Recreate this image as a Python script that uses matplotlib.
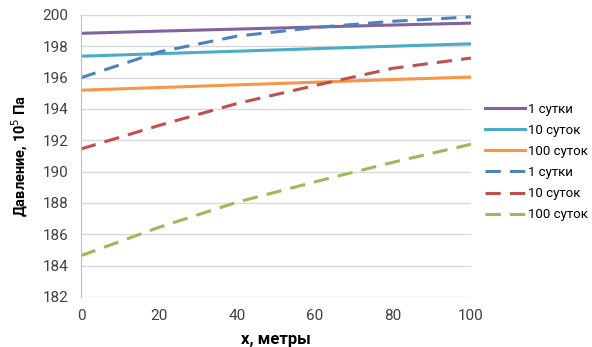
import matplotlib
matplotlib.use("Agg")
import matplotlib.pyplot as plt

x_solid = [0, 20, 40, 60, 80, 100]
s1 = [198.83, 198.97, 199.1, 199.23, 199.36, 199.48]
s10 = [197.37, 197.53, 197.69, 197.85, 198.01, 198.16]
s100 = [195.2, 195.37, 195.54, 195.71, 195.88, 196.04]

x_dash = [0, 20, 40, 60, 80, 100]
d1 = [196.0, 197.64, 198.65, 199.2, 199.6, 199.88]
d10 = [191.45, 192.95, 194.35, 195.5, 196.6, 197.25]
d100 = [184.64, 186.45, 188.05, 189.35, 190.6, 191.75]

labels = ["1 сутки", "10 суток", "100 суток", "1 сутки", "10 суток", "100 суток"]
yticks = list(range(182, 201, 2))
xticks = list(range(0, 101, 20))

plt.rcParams['font.family'] = ['Roboto', 'DejaVu Sans']

fig = plt.figure(figsize=(5.92, 3.47), dpi=100)
ax = fig.add_axes([81/592, 50/347, 390/592, 282/347])

lw = 2.2
dash = (0, (5, 3))
ax.plot(x_solid, s1, color="#8064A2", lw=lw, label=labels[0])
ax.plot(x_solid, s10, color="#4BACC6", lw=lw, label=labels[1])
ax.plot(x_solid, s100, color="#F79646", lw=lw, label=labels[2])
ax.plot(x_dash, d1, color="#4F81BD", lw=lw, ls=dash, label=labels[3])
ax.plot(x_dash, d10, color="#C0504D", lw=lw, ls=dash, label=labels[4])
ax.plot(x_dash, d100, color="#9BBB59", lw=lw, ls=dash, label=labels[5])

ax.set_xlim(0, 100)
ax.set_ylim(182, 200)
ax.set_xticks(xticks)
ax.set_yticks(yticks)
ax.yaxis.grid(True, color="#D9D9D9", lw=1)
ax.set_axisbelow(True)
for s in ["top", "right", "bottom"]:
    ax.spines[s].set_visible(False)
ax.spines["left"].set_color("#BFBFBF")
ax.tick_params(axis="both", length=0, labelsize=11, colors="#404040")
ax.tick_params(axis="y", pad=9)
ax.tick_params(axis="x", pad=9)

ax.set_xlabel("x, метры", fontsize=12, fontweight="bold", labelpad=6)
ax.set_ylabel("Давление, 10$^5$ Па", fontsize=10.5, fontweight="bold", labelpad=9)

leg = fig.legend(loc="center left", bbox_to_anchor=(480/592, (347-162)/347), frameon=False,
                 fontsize=9.5, handlelength=3.0, handletextpad=0.25, labelspacing=0.62,
                 borderaxespad=0)

fig.savefig("out.png", dpi=100)
